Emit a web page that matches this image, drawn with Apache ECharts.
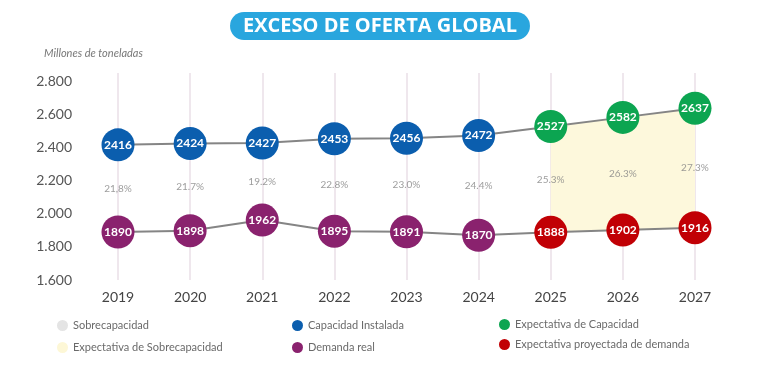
<!DOCTYPE html>
<html><head><meta charset="utf-8">
<script src="https://cdn.jsdelivr.net/npm/echarts@6/dist/echarts.min.js"></script>
<style>html,body{margin:0;padding:0;background:#fff}#c{width:760px;height:383px}</style>
</head><body><div id="c"></div>
<script>
const years = ['2019','2020','2021','2022','2023','2024','2025','2026','2027'];
const capacidadInstalada = [2416,2424,2427,2453,2456,2472,null,null,null];
const expectativaCapacidad = [null,null,null,null,null,null,2527,2582,2637];
const demandaReal = [1890,1898,1962,1895,1891,1870,null,null,null];
const expectativaDemanda = [null,null,null,null,null,null,1888,1902,1916];
const sobrecapacidadPct = ['21,8%','21.7%','19.2%','22.8%','23.0%','24.4%','25.3%','26.3%','27.3%'];
const yTickLabels = {1600:'1.600',1800:'1.800',2000:'2.000',2200:'2.200',2400:'2.400',2600:'2.600',2800:'2.800'};

const cap = years.map((y,i)=> capacidadInstalada[i] ?? expectativaCapacidad[i]);
const dem = years.map((y,i)=> demandaReal[i] ?? expectativaDemanda[i]);
const dash = v => v == null ? '-' : v;
const fillBase = expectativaDemanda.map(dash);
const fillDiff = years.map((y,i)=> expectativaCapacidad[i]==null ? '-' : expectativaCapacidad[i]-expectativaDemanda[i]);
const mid = years.map((y,i)=> (cap[i]+dem[i])/2);

const F = 'Lato, "Open Sans", sans-serif';
function dots(name, data, color){
  return {name, type:'scatter', data:data.map(dash), symbolSize:33, z:5,
    itemStyle:{color, opacity:1},
    label:{show:true, position:'inside', color:'#fff', fontFamily:F, fontWeight:'bold', fontSize:12,
      formatter:p=>p.value}};
}
const chart = echarts.init(document.getElementById('c'));
chart.setOption({
  animation:false,
  title:{text:'EXCESO DE OFERTA GLOBAL', left:'center', top:12,
    backgroundColor:'#29a6de', borderRadius:15, padding:[3,13,3,13],
    textStyle:{color:'#fff', fontFamily:'"Open Sans", sans-serif', fontWeight:'bold', fontSize:20, lineHeight:22}},
  graphic:[{type:'text', left:44, top:48, style:{text:'Millones de toneladas', fill:'#777', fontSize:11, fontStyle:'italic', fontFamily:F}}],
  legend:[
    {orient:'vertical', left:52, top:315, itemGap:11, icon:'circle', itemWidth:11, itemHeight:11,
     textStyle:{color:'#6a6a6a', fontFamily:F, fontSize:11}, data:['Sobrecapacidad','Expectativa de Sobrecapacidad']},
    {orient:'vertical', left:287, top:315, itemGap:11, icon:'circle', itemWidth:11, itemHeight:11,
     textStyle:{color:'#6a6a6a', fontFamily:F, fontSize:11}, data:['Capacidad Instalada','Demanda real']},
    {orient:'vertical', left:494, top:314, itemGap:9, icon:'circle', itemWidth:11, itemHeight:11,
     textStyle:{color:'#6a6a6a', fontFamily:F, fontSize:11}, data:['Expectativa de Capacidad','Expectativa proyectada de demanda']}
  ],
  grid:{left:118, right:65, top:73, bottom:103},
  xAxis:{type:'category', data:years, boundaryGap:false,
    axisLine:{show:false}, axisTick:{show:false},
    axisLabel:{color:'#444', fontFamily:F, fontSize:14, margin:10},
    splitLine:{show:true, lineStyle:{color:'#efe7ed', width:2}}},
  yAxis:{type:'value', min:1600, max:2850, interval:200,
    axisLine:{show:false}, axisTick:{show:false}, splitLine:{show:false},
    axisLabel:{color:'#555', fontFamily:F, fontSize:14, margin:46, formatter:v=>yTickLabels[v]||''}},
  series:[
    {name:'Sobrecapacidad', type:'line', data:[], itemStyle:{color:'#e4e4e4'}},
    {name:'fillBase', type:'line', stack:'f', data:fillBase, symbol:'none', lineStyle:{width:0}, z:1},
    {name:'Expectativa de Sobrecapacidad', type:'line', stack:'f', data:fillDiff, symbol:'none',
     itemStyle:{color:'#fdf7d6'}, lineStyle:{width:0}, areaStyle:{color:'#fdf8dc', opacity:1}, z:1},
    {name:'capLine', type:'line', data:cap, symbol:'none', lineStyle:{color:'#858585', width:2}, z:3},
    {name:'demLine', type:'line', data:dem, symbol:'none', lineStyle:{color:'#858585', width:2}, z:3},
    dots('Capacidad Instalada', capacidadInstalada, '#0b5eae'),
    dots('Expectativa de Capacidad', expectativaCapacidad, '#0ca551'),
    dots('Demanda real', demandaReal, '#8a226e'),
    dots('Expectativa proyectada de demanda', expectativaDemanda, '#c10005'),
    {name:'pct', type:'scatter', data:mid, symbolSize:0, z:4,
     label:{show:true, position:'inside', color:'#858585', fontFamily:F, fontSize:10,
       formatter:p=>sobrecapacidadPct[p.dataIndex]}}
  ]
});
</script></body></html>
